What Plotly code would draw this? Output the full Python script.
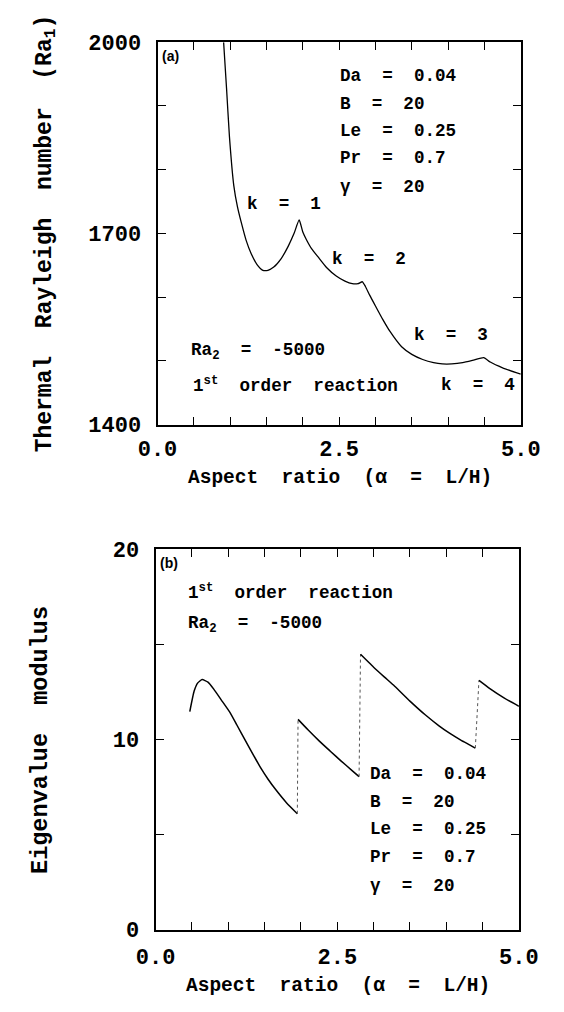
import plotly.graph_objects as go

# ---------------- data ----------------
# Panel (a): critical thermal Rayleigh number vs aspect ratio
aspect_a = [0.91, 0.95, 0.99, 1.05, 1.10, 1.16, 1.22, 1.29, 1.37, 1.45, 1.52, 1.60, 1.70,
            1.80, 1.88, 1.95, 2.00, 2.05, 2.12, 2.21, 2.33, 2.46, 2.58, 2.68, 2.76, 2.82,
            2.86, 2.92, 3.00, 3.10, 3.20, 3.36, 3.50, 3.65, 3.80, 3.92, 4.05, 4.20, 4.35,
            4.49, 4.58, 4.75, 5.00]
ra1 = [2000, 1928, 1852, 1775, 1742, 1714, 1689, 1668, 1651, 1642, 1642, 1647, 1660,
       1680, 1700, 1721, 1702, 1690, 1676, 1663, 1646, 1633, 1625, 1621, 1621, 1624,
       1617, 1603, 1586, 1565, 1546, 1522, 1510, 1502, 1497, 1495, 1495, 1497, 1501,
       1505, 1498, 1489, 1479]

# Panel (b): eigenvalue modulus vs aspect ratio, one branch per mode k
seg1_x = [0.47, 0.53, 0.58, 0.64, 0.72, 0.80, 0.90, 1.02, 1.12, 1.23, 1.34, 1.44, 1.55,
          1.66, 1.80, 1.95]
seg1_y = [11.47, 12.55, 12.98, 13.15, 13.02, 12.65, 12.10, 11.44, 10.75, 9.98, 9.22,
          8.55, 7.90, 7.33, 6.68, 6.10]
seg2_x = [1.96, 2.10, 2.25, 2.40, 2.55, 2.70, 2.80]
seg2_y = [11.06, 10.50, 9.93, 9.40, 8.88, 8.38, 8.05]
seg3_x = [2.82, 2.90, 3.00, 3.15, 3.29, 3.50, 3.71, 3.90, 4.05, 4.20, 4.32, 4.40]
seg3_y = [14.48, 14.18, 13.80, 13.28, 12.80, 12.02, 11.30, 10.72, 10.32, 9.97, 9.72, 9.55]
seg4_x = [4.45, 4.60, 4.80, 5.00]
seg4_y = [13.11, 12.68, 12.18, 11.75]

x_tickvals = [0, 0.5, 1, 1.5, 2, 2.5, 3, 3.5, 4, 4.5, 5]
x_ticktext = ["0.0", "", "", "", "", "2.5", "", "", "", "", "5.0"]
ya_tickvals = [1400, 1500, 1600, 1700, 1800, 1900, 2000]
ya_ticktext = ["1400", "", "", "1700", "", "", "2000"]
yb_tickvals = [0, 5, 10, 15, 20]
yb_ticktext = ["0", "", "10", "", "20"]

params = ["Da  =  0.04", "B  =  20", "Le  =  0.25", "Pr  =  0.7", "γ  =  20"]

# ---------------- figure ----------------
W, H = 564, 1012
MONO = "Liberation Mono, Courier New, monospace"
SANS = "Liberation Sans, Arial, sans-serif"

def px(v):  # horizontal pixel -> paper
    return v / W

def py(v):  # vertical pixel (from top) -> paper
    return 1 - v / H

fig = go.Figure()

fig.add_trace(go.Scatter(x=aspect_a, y=ra1, mode="lines",
                         line=dict(color="black", width=1.3, shape="spline", smoothing=0.5),
                         xaxis="x", yaxis="y", showlegend=False))

segs = [(seg1_x, seg1_y), (seg2_x, seg2_y), (seg3_x, seg3_y), (seg4_x, seg4_y)]
for i, (sx, sy) in enumerate(segs):
    fig.add_trace(go.Scatter(x=sx, y=sy, mode="lines",
                             line=dict(color="black", width=1.5, shape="spline", smoothing=0.5),
                             xaxis="x2", yaxis="y2", showlegend=False))
    if i + 1 < len(segs):
        nx, ny = segs[i + 1]
        fig.add_trace(go.Scatter(x=[sx[-1], nx[0]], y=[sy[-1], ny[0]], mode="lines",
                                 line=dict(color="#555555", width=1, dash="dot"),
                                 xaxis="x2", yaxis="y2", showlegend=False))

tickfont = dict(family=MONO, size=22, color="black", weight="bold")
common = dict(showgrid=False, zeroline=False, showline=True, linecolor="black",
              linewidth=2, mirror="ticks", ticks="inside", ticklen=8, tickwidth=1.3,
              tickcolor="black", tickfont=tickfont, tickmode="array")

fig.update_layout(
    width=W, height=H, margin=dict(l=0, r=0, t=0, b=0),
    paper_bgcolor="white", plot_bgcolor="white",
    xaxis=dict(domain=[px(148), px(539)], range=[0, 5], anchor="y",
               tickvals=x_tickvals, ticktext=x_ticktext, ticklabelstandoff=3, **common),
    yaxis=dict(domain=[py(425), py(33)], range=[1400, 2000], anchor="x",
               tickvals=ya_tickvals, ticktext=ya_ticktext, ticklabelstandoff=10, **common),
    xaxis2=dict(domain=[px(146), px(537)], range=[0, 5], anchor="y2",
                tickvals=x_tickvals, ticktext=x_ticktext, ticklabelstandoff=6, **common),
    yaxis2=dict(domain=[py(943), py(553)], range=[0, 20], anchor="x2",
                tickvals=yb_tickvals, ticktext=yb_ticktext, ticklabelstandoff=10, **common),
)

ann = []

def txt(x, y, s, size=17.6, xanchor="left", angle=0, family=MONO, weight="bold"):
    ann.append(dict(x=px(x), y=py(y), xref="paper", yref="paper", text=s,
                    showarrow=False, xanchor=xanchor, yanchor="middle", textangle=angle,
                    font=dict(family=family, size=size, color="black", weight=weight)))

# axis titles
txt(344, 480, "Aspect  ratio  (α  =  L/H)", size=19.5, xanchor="center")
txt(342, 1001, "Aspect  ratio  (α  =  L/H)", size=19.5, xanchor="center")
txt(28, 229, "Thermal  Rayleigh  number  (Ra<sub>1</sub>)", size=23, xanchor="center", angle=-90)
txt(22, 748, "Eigenvalue  modulus", size=23.5, xanchor="center", angle=-90)

# panel (a) texts
txt(151, 47, "(a)", size=14, family=SANS)
for i, s in enumerate(params):
    txt(342, [68, 96, 124, 152, 181][i], s)
txt(242, 199, "k  =  1")
txt(334, 255, "k  =  2")
txt(422, 333, "k  =  3")
txt(451, 384, "k  =  4")
txt(182, 350, "Ra<sub>2</sub>  =  -5000")
txt(184, 384, "1<sup>st</sup>  order  reaction")

# panel (b) texts
txt(149, 567, "(b)", size=14, family=SANS)
txt(179, 597, "1<sup>st</sup>  order  reaction")
txt(179, 630, "Ra<sub>2</sub>  =  -5000")
for i, s in enumerate(params):
    txt(375, [783, 812, 840, 868, 898][i], s)

fig.update_layout(annotations=ann)

fig.write_html("out.html")
